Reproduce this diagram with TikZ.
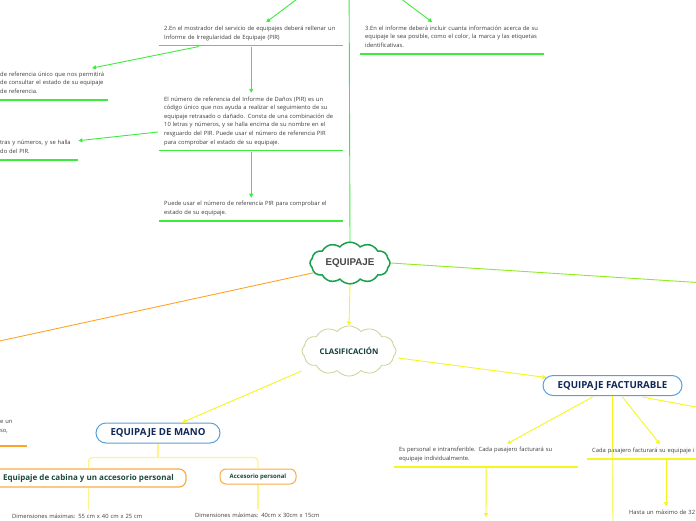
\documentclass[tikz,border=0pt]{standalone}
\usepackage{fontspec}
\setmainfont{Open Sans}
\newfontfamily\titlefont{Liberation Sans}
\usetikzlibrary{arrows.meta,positioning,calc,shapes.symbols}

\definecolor{verdeRama}{HTML}{3DEB3D}
\definecolor{verdeLima}{HTML}{8EEB1F}
\definecolor{naranjaRama}{HTML}{FFA426}
\definecolor{amarilloRama}{HTML}{F5F51F}
\definecolor{amarilloClaro}{HTML}{FFF48A}
\definecolor{nubeVerde}{HTML}{17A14C}
\definecolor{nubeOliva}{HTML}{C9D294}
\definecolor{bordeAzul}{HTML}{5A9FDA}
\definecolor{textoAzul}{HTML}{0F2858}
\definecolor{bordeNaranja}{HTML}{F9AC45}
\definecolor{textoVerde}{HTML}{1B4A38}
\definecolor{textoTeal}{HTML}{123F3A}
\definecolor{textoGris}{HTML}{3B3B3B}
\definecolor{tituloGris}{HTML}{454545}

\begin{document}
\begin{tikzpicture}[
		x=1pt, y=-1pt,
		>={Triangle[length=4pt,width=4pt]},
		nota/.style={anchor=south west, text width=#1, inner xsep=5pt, inner ysep=2pt, align=left,
			execute at begin node={\rule{0pt}{6pt}}, execute at end node={\rule[-4.3pt]{0pt}{4.3pt}},
			font=\fontsize{5.8}{8.6}\selectfont, text=textoGris},
		nube/.style={cloud, cloud puffs=12, cloud puff arc=100, aspect=2, draw=#1, fill=white, inner sep=0pt},
		caja/.style={draw=#1, fill=white, inner sep=0pt, line width=1pt},
		rama/.style={draw=#1, line width=0.9pt},
		flecha/.style={->, draw=#1, line width=0.9pt},
		subrayado/.style={draw=#1, line width=1.6pt}
		]
		
		\useasboundingbox (0,0) rectangle (696,520);
		\clip (0,0) rectangle (696,520);
		
		% --------------------------------------------------
		% Central idea
		% --------------------------------------------------
		\node[nube=nubeVerde, line width=1.5pt, minimum width=80pt, minimum height=40pt,
		font=\titlefont\bfseries\fontsize{9.8}{11}\selectfont, text=tituloGris] (equipaje) at (350,263) {EQUIPAJE};
		
		\coordinate (paso1) at (349,-40);
		\coordinate (ramaIzq) at (-120,367);
		\coordinate (ramaDer) at (800,289);
		
		% --------------------------------------------------
		% Upper branch: PIR
		% --------------------------------------------------
		\node[nota=174pt] (pir2) at (159,45.5) {2.En el mostrador del servicio de equipajes deberá rellenar un\\Informe de Irregularidad de Equipaje (PIR)};
		\node[nota=174pt] (info3) at (360,54) {3.En el informe deberá incluir cuanta información acerca de su\\equipaje le sea posible, como el color, la marca y las etiquetas\\identificativas.};
		\node[nota=140pt] (izq1) at (-5,100) {de referencia único que nos permitirá\\de consultar el estado de su equipaje\\de referencia.};
		\node[nota=174pt] (pirnum) at (159,150.5) {El número de referencia del Informe de Daños (PIR) es un\\código único que nos ayuda a realizar el seguimiento de su\\equipaje retrasado o dañado. Consta de una combinación de\\10 letras y números, y se halla encima de su nombre en el\\resguardo del PIR. Puede usar el número de referencia PIR\\para comprobar el estado de su equipaje.};
		\node[nota=73pt] (izq2) at (-5,160) {tras y números, y se halla\\do del PIR.};
		\node[nota=174pt] (puede) at (159,221) {Puede usar el número de referencia PIR para comprobar el\\estado de su equipaje.};
		
		\foreach \n in {pir2,info3,izq2,pirnum,puede}
		\draw[subrayado=verdeRama] (\n.south west) -- (\n.south east);
		\draw[subrayado=verdeRama] (izq1.south west) -- (izq1.south west -| 108,0);
		
		\draw[rama=verdeRama] (equipaje.north) -- (paso1);
		\draw[flecha=verdeRama] (paso1) -- ($(pir2.north)+(15,0)$);
		\draw[flecha=verdeRama] (paso1) -- ($(info3.north)+(-20,0)$);
		\draw[flecha=verdeRama] ($(pir2.south west)+(40,1)$) -- (92,0 |- izq1.north);
		\draw[flecha=verdeRama] ($(pir2.south)+(0,1)$) -- (pirnum.north);
		\draw[flecha=verdeRama] ($(pirnum.south west)+(-1,-18.5)$) -- ($(izq2.north east)+(0,4)$);
		\draw[flecha=verdeRama] ($(pirnum.south)+(0,1)$) -- (puede.north);
		
		% --------------------------------------------------
		% Left and right branches
		% --------------------------------------------------
		\draw[rama=naranjaRama] (equipaje.195) -- (ramaIzq);
		\draw[rama=verdeLima] (equipaje.east) -- (ramaDer);
		\node[nota=22pt] (izq3) at (-5,438.8) {e un\\so,};
		\draw[subrayado=naranjaRama] ($(izq3.south west)+(0,7)$) -- ($(izq3.south east)+(0,7)$);
		
		% --------------------------------------------------
		% Clasificacion
		% --------------------------------------------------
		\node[nube=nubeOliva, line width=0.8pt, minimum width=94pt, minimum height=38pt,
		font=\bfseries\fontsize{7.8}{9}\selectfont, text=textoTeal] (clasif) at (349,351) {CLASIFICACIÓN};
		\draw[flecha=amarilloRama] (equipaje.south) -- (clasif.north);
		
		\node[caja=bordeAzul, rounded corners=10pt, minimum width=124pt, minimum height=20pt,
		font=\bfseries\fontsize{9.7}{11}\selectfont, text=textoAzul] (mano) at (158,433) {EQUIPAJE DE MANO};
		\node[caja=bordeAzul, rounded corners=10pt, minimum width=139pt, minimum height=20pt,
		font=\bfseries\fontsize{9.7}{11}\selectfont, text=textoAzul] (facturable) at (612.5,385.5) {EQUIPAJE FACTURABLE};
		
		\draw[flecha=amarilloRama] ($(clasif.west)+(0,20)$) -- ($(mano.north)+(24,0)$);
		\draw[flecha=amarilloRama] ($(clasif.east)+(2,7)$) -- ($(facturable.west)+(4,-8)$);
		
		% --------------------------------------------------
		% Equipaje de mano
		% --------------------------------------------------
		\node[caja=bordeNaranja, line width=1.2pt, rounded corners=7pt, minimum width=195pt, minimum height=18pt,
		font=\bfseries\fontsize{8}{9}\selectfont, text=textoVerde] (cabina) at (88.5,478) {Equipaje de cabina y un accesorio personal};
		\node[caja=bordeNaranja, rounded corners=6pt, minimum width=76pt, minimum height=15pt,
		font=\bfseries\fontsize{6}{7}\selectfont, text=textoVerde] (accesorio) at (258,476.5) {Accesorio personal};
		
		\node[nota=150pt] (dim1) at (7,524.8) {Dimensiones máximas: 55 cm x 40 cm x 25 cm};
		\node[nota=150pt] (dim2) at (190,523.8) {Dimensiones máximas: 40cm x 30cm x 15cm};
		
		\coordinate (bif) at ($(mano.south)+(0,14)$);
		\draw[rama=amarilloClaro, line width=1.3pt] (mano.south) -- (bif);
		\draw[rama=amarilloClaro, line width=1.3pt, rounded corners=4pt] (bif) -| (cabina.north);
		\draw[rama=amarilloClaro, line width=1.3pt, rounded corners=4pt] (bif) -| (accesorio.north);
		\draw[rama=amarilloClaro, line width=1.3pt] (cabina.south) -- (cabina.south |- dim1.north);
		\draw[rama=amarilloClaro, line width=1.3pt] (accesorio.south) -- (accesorio.south |- dim2.north);
		
		% --------------------------------------------------
		% Equipaje facturable
		% --------------------------------------------------
		\node[nota=174pt] (personal) at (394,467) {Es personal e intransferible. Cada pasajero facturará su\\equipaje individualmente.};
		\node[nota=174pt] (cada) at (587,459) {Cada pasajero facturará su equipaje i};
		\node[nota=100pt] (hasta) at (624,520.8) {Hasta un máximo de 32};
		\draw[subrayado=amarilloRama] (personal.south west) -- (personal.south east);
		\draw[subrayado=amarilloRama] (cada.south west) -- (cada.south east);
		
		\coordinate (factAbajo) at (613,530);
		\coordinate (factDer) at (760,419);
		\coordinate (persHijo) at (486,517);
		
		\draw[flecha=amarilloRama] ($(facturable.south)+(-20,1)$) -- ($(personal.north)+(21,0)$);
		\draw[rama=amarilloRama] (facturable.south) -- (factAbajo);
		\draw[flecha=amarilloRama] ($(facturable.south)+(10,1)$) -- ($(cada.north west)+(73,0)$);
		\draw[rama=amarilloRama] ($(facturable.south east)+(-40,1)$) -- (factDer);
		\draw[flecha=amarilloRama] ($(personal.south)+(0,1)$) -- (persHijo);
		\draw[flecha=amarilloRama] (666,0 |- cada.south) -- (666,0 |- hasta.north);
		
	\end{tikzpicture}
\end{document}
